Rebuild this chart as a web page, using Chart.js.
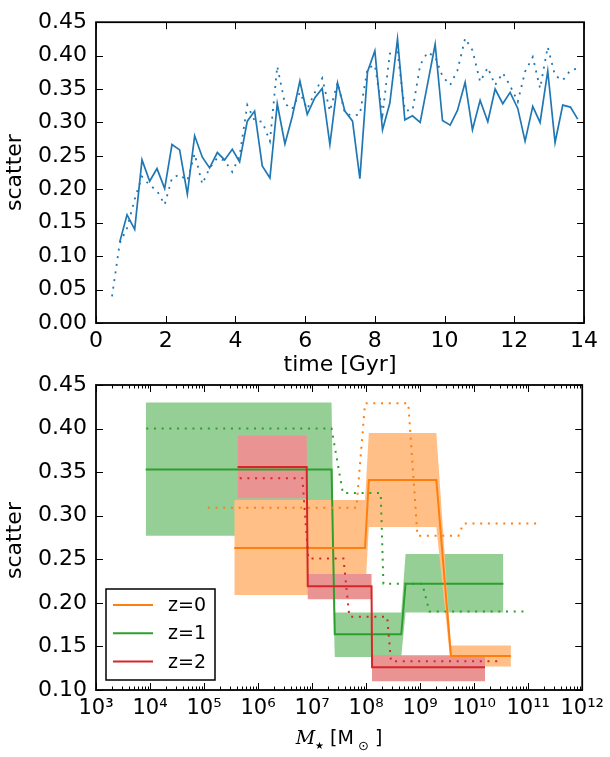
<!DOCTYPE html>
<html>
<head>
<meta charset="utf-8">
<script src="https://cdn.jsdelivr.net/npm/chart.js@4.4.1/dist/chart.umd.min.js"></script>
<style>
  html, body { margin: 0; padding: 0; background: #fff; }
  #wrap { position: relative; width: 610px; height: 757px; }
  canvas { position: absolute; left: 0; top: 0; }
</style>
</head>
<body>
<div id="wrap">
  <canvas id="chartTime" width="610" height="757"></canvas>
  <canvas id="chartMass" width="610" height="757"></canvas>
</div>
<script>
// ---- top panel: scatter vs time ----
const timeGyr = [0.46, 0.68, 0.89, 1.11, 1.32, 1.54, 1.75, 1.97, 2.18, 2.40,
  2.62, 2.83, 3.05, 3.26, 3.48, 3.69, 3.91, 4.12, 4.34, 4.55,
  4.77, 4.99, 5.20, 5.42, 5.63, 5.85, 6.06, 6.28, 6.49, 6.71,
  6.93, 7.14, 7.36, 7.57, 7.79, 8.00, 8.22, 8.43, 8.65, 8.86,
  9.08, 9.30, 9.51, 9.73, 9.94, 10.16, 10.37, 10.59, 10.80, 11.02,
  11.24, 11.45, 11.67, 11.88, 12.10, 12.31, 12.53, 12.74, 12.96, 13.17,
  13.39, 13.61, 13.82];
// dotted curve, one value per entry of timeGyr
const scatterDotted = [0.040, 0.119, 0.142, 0.185, 0.219, 0.206, 0.198, 0.177, 0.217, 0.222,
  0.213, 0.253, 0.208, 0.232, 0.247, 0.243, 0.226, 0.250, 0.326, 0.303,
  0.301, 0.272, 0.384, 0.328, 0.320, 0.345, 0.320, 0.345, 0.366, 0.317,
  0.360, 0.314, 0.310, 0.312, 0.381, 0.386, 0.312, 0.403, 0.405, 0.318,
  0.318, 0.386, 0.405, 0.398, 0.369, 0.356, 0.378, 0.426, 0.408, 0.361,
  0.382, 0.356, 0.374, 0.355, 0.331, 0.376, 0.398, 0.351, 0.413, 0.370,
  0.363, 0.378, 0.381];
// solid curve, starts at timeGyr[1]
const scatterSolid = [0.121, 0.162, 0.140, 0.244, 0.212, 0.231, 0.201, 0.267, 0.259,
  0.193, 0.280, 0.248, 0.232, 0.255, 0.244, 0.260, 0.241, 0.302, 0.317,
  0.235, 0.217, 0.328, 0.268, 0.309, 0.362, 0.312, 0.337, 0.351, 0.267,
  0.359, 0.317, 0.302, 0.216, 0.376, 0.407, 0.289, 0.329, 0.425, 0.304,
  0.310, 0.300, 0.357, 0.417, 0.303, 0.296, 0.318, 0.360, 0.289, 0.333,
  0.301, 0.350, 0.328, 0.345, 0.321, 0.272, 0.324, 0.300, 0.377, 0.270,
  0.326, 0.323, 0.305];
const timeTicks = [0, 2, 4, 6, 8, 10, 12, 14];
const topYTicks = [0, 0.05, 0.10, 0.15, 0.20, 0.25, 0.30, 0.35, 0.40, 0.45];

// ---- bottom panel: scatter vs stellar mass (log10 M) ----
const redshiftLabels = ['z=0', 'z=1', 'z=2'];

const logMassZ0 = [5.56, 7.98, 8.05, 9.30, 9.57, 10.68];
const medianZ0 = [0.263, 0.263, 0.341, 0.341, 0.139, 0.139];
const upperZ0 = [0.318, 0.318, 0.395, 0.395, 0.151, 0.151];
const lowerZ0 = [0.209, 0.209, 0.287, 0.287, 0.127, 0.127];
const logMassDotZ0 = [5.07, 7.82, 7.98, 8.78, 8.95, 9.71, 9.80, 11.16];
const dottedZ0 = [0.309, 0.309, 0.429, 0.429, 0.277, 0.277, 0.291, 0.291];

const logMassZ1 = [3.92, 7.36, 7.42, 8.65, 8.73, 10.54];
const medianZ1 = [0.353, 0.353, 0.164, 0.164, 0.222, 0.222];
const upperZ1 = [0.430, 0.430, 0.189, 0.189, 0.256, 0.256];
const lowerZ1 = [0.277, 0.277, 0.138, 0.138, 0.189, 0.189];
const logMassDotZ1 = [3.93, 7.36, 7.57, 8.27, 8.32, 9.04, 9.17, 10.93];
const dottedZ1 = [0.400, 0.400, 0.326, 0.326, 0.222, 0.222, 0.190, 0.190];

const logMassZ2 = [5.62, 6.90, 6.92, 8.10, 8.11, 10.20];
const medianZ2 = [0.356, 0.356, 0.219, 0.219, 0.126, 0.126];
const upperZ2 = [0.392, 0.392, 0.233, 0.233, 0.140, 0.140];
const lowerZ2 = [0.320, 0.320, 0.204, 0.204, 0.110, 0.110];
const logMassDotZ2 = [5.66, 6.82, 6.93, 7.58, 7.69, 8.39, 8.46, 10.48];
const dottedZ2 = [0.343, 0.343, 0.251, 0.251, 0.184, 0.184, 0.133, 0.133];

const massTickExps = [3, 4, 5, 6, 7, 8, 9, 10, 11, 12];
const massTickLabels = ['10³', '10⁴', '10⁵', '10⁶', '10⁷', '10⁸', '10⁹', '10¹⁰', '10¹¹', '10¹²'];
const bottomYTicks = [0.10, 0.15, 0.20, 0.25, 0.30, 0.35, 0.40, 0.45];

const BLUE = '#1f77b4';
const ORANGE = '#ff7f0e', GREEN = '#2ca02c', RED = '#d62728';
const ORANGE_FILL = '#ffbf86', GREEN_FILL = '#96cf96', RED_FILL = '#ea9393';
const DOTS = [2, 5.7];

Chart.defaults.font.family = "'DejaVu Sans', sans-serif";
Chart.defaults.color = '#000';

function fixWidth(w) { return (scale) => { scale.width = w; }; }
function fixHeight(h) { return (scale) => { scale.height = h; }; }
function setTicks(values) { return (scale) => { scale.ticks = values.map(v => ({ value: v })); }; }

// spines and inward ticks on all four sides, like the matplotlib classic style
const framePlugin = {
  id: 'frame',
  afterDraw(chart, args, opts) {
    const { ctx, chartArea: a } = chart;
    const xs = chart.scales.x, ys = chart.scales.y;
    ctx.save();
    ctx.strokeStyle = '#000';
    ctx.lineWidth = 1;
    ctx.beginPath();
    const xTick = (v, len) => {
      const p = Math.round(xs.getPixelForValue(v)) + 0.5;
      ctx.moveTo(p, a.bottom); ctx.lineTo(p, a.bottom - len);
      ctx.moveTo(p, a.top); ctx.lineTo(p, a.top + len);
    };
    const yTick = (v, len) => {
      const p = Math.round(ys.getPixelForValue(v)) + 0.5;
      ctx.moveTo(a.left, p); ctx.lineTo(a.left + len, p);
      ctx.moveTo(a.right, p); ctx.lineTo(a.right - len, p);
    };
    (opts.xMajor || []).forEach(v => xTick(v, 7));
    (opts.xMinor || []).forEach(v => xTick(v, 3.5));
    (opts.yMajor || []).forEach(v => yTick(v, 7));
    ctx.stroke();
    ctx.lineWidth = 1.8;
    ctx.strokeRect(a.left, a.top, a.right - a.left, a.bottom - a.top);
    ctx.restore();
  }
};

// legend box in lower left corner
const boxLegend = {
  id: 'boxLegend',
  afterDraw(chart, args, opts) {
    const { ctx, chartArea: a } = chart;
    const x0 = a.left + 10, y1 = a.bottom - 10;
    const w = 109, h = 91, y0 = y1 - h;
    ctx.save();
    ctx.fillStyle = '#fff';
    ctx.fillRect(x0, y0, w, h);
    ctx.strokeStyle = '#000';
    ctx.lineWidth = 1.5;
    ctx.strokeRect(x0, y0, w, h);
    ctx.font = "19px 'DejaVu Sans'";
    ctx.textBaseline = 'middle';
    ctx.fillStyle = '#000';
    opts.labels.forEach((lab, i) => {
      const y = y0 + 16 + i * 28.3;
      ctx.strokeStyle = opts.colors[i];
      ctx.lineWidth = 2;
      ctx.beginPath();
      ctx.moveTo(x0 + 7, y); ctx.lineTo(x0 + 47, y);
      ctx.stroke();
      ctx.fillText(lab, x0 + 62, y + 1);
    });
    ctx.restore();
  }
};

// axis titles of the lower panel: "scatter" and  M_star [M_sun]
const massLabels = {
  id: 'massLabels',
  afterDraw(chart) {
    const { ctx, chartArea: a } = chart;
    ctx.save();
    ctx.fillStyle = '#000';
    ctx.font = "22px 'DejaVu Sans'";
    ctx.translate(15, (a.top + a.bottom) / 2 + 3);
    ctx.rotate(-Math.PI / 2);
    ctx.textAlign = 'center';
    ctx.textBaseline = 'middle';
    ctx.fillText('scatter', 0, 0);
    ctx.restore();

    const base = 744;
    const parts = [
      { t: 'M', f: "italic 19px 'DejaVu Serif'", dy: 0 },
      { t: '★', f: "10px 'DejaVu Sans'", dy: 5 },
      { t: ' [M', f: "19px 'DejaVu Sans'", dy: 0 },
      { t: ' ', f: "13px 'DejaVu Sans'", dy: 0 },
      { t: '⊙', f: "13px 'DejaVu Sans'", dy: 6 },
      { t: ' ]', f: "19px 'DejaVu Sans'", dy: 0 }
    ];
    ctx.save();
    ctx.fillStyle = '#000';
    ctx.textBaseline = 'alphabetic';
    let total = 0;
    parts.forEach(p => { ctx.font = p.f; p.w = ctx.measureText(p.t).width; total += p.w; });
    let x = 339 - total / 2;
    parts.forEach(p => { ctx.font = p.f; ctx.fillText(p.t, x, base + p.dy); x += p.w; });
    ctx.restore();
  }
};

function pts(xs, ys) { return xs.map((x, i) => ({ x: x, y: ys[i] })); }
function massPts(logM, ys) { return logM.map((m, i) => ({ x: Math.pow(10, m), y: ys[i] })); }

const tickFont = { size: 22, weight: 'normal' };
const titleFont = { size: 22, weight: 'normal' };
const noGrid = { display: false, drawTicks: false };

new Chart(document.getElementById('chartTime'), {
  type: 'line',
  data: {
    datasets: [
      {
        data: pts(timeGyr, scatterDotted),
        borderColor: BLUE, borderWidth: 1.8, borderDash: DOTS,
        pointRadius: 0, fill: false, order: 2
      },
      {
        data: pts(timeGyr.slice(1), scatterSolid),
        borderColor: BLUE, borderWidth: 1.7,
        pointRadius: 0, fill: false, order: 1
      }
    ]
  },
  options: {
    responsive: false,
    animation: false,
    events: [],
    layout: { padding: { left: 0, top: 18, right: 26, bottom: 379 } },
    plugins: {
      legend: { display: false },
      tooltip: { enabled: false },
      frame: { xMajor: timeTicks, yMajor: topYTicks }
    },
    scales: {
      x: {
        type: 'linear', min: 0, max: 14,
        grid: noGrid, border: { display: false },
        afterBuildTicks: setTicks(timeTicks),
        afterFit: fixHeight(55),
        ticks: { font: tickFont, padding: 5, maxRotation: 0, autoSkip: false },
        title: { display: true, text: 'time [Gyr]', font: titleFont, padding: { top: 0, bottom: 0 } }
      },
      y: {
        min: 0, max: 0.45,
        grid: noGrid, border: { display: false },
        afterBuildTicks: setTicks(topYTicks),
        afterFit: fixWidth(96),
        ticks: { font: tickFont, padding: 9, callback: v => v.toFixed(2) },
        title: { display: true, text: 'scatter', font: titleFont, padding: { top: 2, bottom: 0 } }
      }
    }
  },
  plugins: [framePlugin]
});

const minorMass = [];
massTickExps.slice(0, -1).forEach(e => {
  for (let m = 2; m < 10; m++) minorMass.push(m * Math.pow(10, e));
});

const bandLine = { borderColor: 'rgba(0,0,0,0)', borderWidth: 0, pointRadius: 0 };

new Chart(document.getElementById('chartMass'), {
  type: 'line',
  data: {
    datasets: [
      { ...bandLine, data: massPts(logMassZ1, upperZ1), backgroundColor: GREEN_FILL, fill: { target: 1 }, order: 60 },
      { ...bandLine, data: massPts(logMassZ1, lowerZ1), fill: false, order: 61 },
      { ...bandLine, data: massPts(logMassZ0, upperZ0), backgroundColor: ORANGE_FILL, fill: { target: 3 }, order: 50 },
      { ...bandLine, data: massPts(logMassZ0, lowerZ0), fill: false, order: 51 },
      { ...bandLine, data: massPts(logMassZ2, upperZ2), backgroundColor: RED_FILL, fill: { target: 5 }, order: 40 },
      { ...bandLine, data: massPts(logMassZ2, lowerZ2), fill: false, order: 41 },
      { data: massPts(logMassDotZ1, dottedZ1), borderColor: GREEN, borderWidth: 2, borderDash: DOTS, pointRadius: 0, fill: false, order: 31 },
      { data: massPts(logMassZ1, medianZ1), borderColor: GREEN, borderWidth: 2, pointRadius: 0, fill: false, order: 30 },
      { data: massPts(logMassDotZ0, dottedZ0), borderColor: ORANGE, borderWidth: 2, borderDash: DOTS, pointRadius: 0, fill: false, order: 21 },
      { data: massPts(logMassZ0, medianZ0), borderColor: ORANGE, borderWidth: 2, pointRadius: 0, fill: false, order: 20 },
      { data: massPts(logMassDotZ2, dottedZ2), borderColor: RED, borderWidth: 2, borderDash: DOTS, pointRadius: 0, fill: false, order: 11 },
      { data: massPts(logMassZ2, medianZ2), borderColor: RED, borderWidth: 2, pointRadius: 0, fill: false, order: 10 }
    ]
  },
  options: {
    responsive: false,
    animation: false,
    events: [],
    layout: { padding: { left: 0, top: 385, right: 26, bottom: 0 } },
    plugins: {
      legend: { display: false },
      tooltip: { enabled: false },
      frame: { xMajor: massTickExps.map(e => Math.pow(10, e)), xMinor: minorMass, yMajor: bottomYTicks },
      boxLegend: { labels: redshiftLabels, colors: [ORANGE, GREEN, RED] }
    },
    scales: {
      x: {
        type: 'logarithmic', min: 1e3, max: 1e12,
        grid: noGrid, border: { display: false },
        afterBuildTicks: setTicks(massTickExps.map(e => Math.pow(10, e))),
        afterFit: fixHeight(67),
        ticks: { font: { size: 21, weight: 'normal' }, padding: 6, maxRotation: 0, autoSkip: false,
          callback: (v, i) => massTickLabels[i] }
      },
      y: {
        min: 0.1, max: 0.45,
        grid: noGrid, border: { display: false },
        afterBuildTicks: setTicks(bottomYTicks),
        afterFit: fixWidth(96),
        ticks: { font: tickFont, padding: 9, callback: v => v.toFixed(2) },
        title: { display: false }
      }
    }
  },
  plugins: [framePlugin, boxLegend, massLabels]
});
</script>
</body>
</html>
